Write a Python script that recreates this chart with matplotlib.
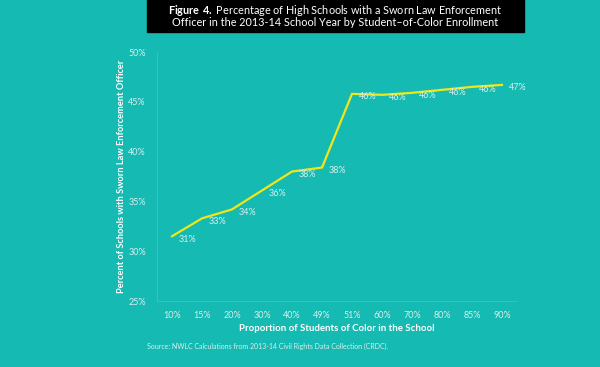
import matplotlib
matplotlib.use("Agg")
import matplotlib.pyplot as plt
from matplotlib.patches import Rectangle

# ---------- data -------------------------------------------------------------
categories = ["10%", "15%", "20%", "30%", "40%", "49%",
              "51%", "60%", "70%", "80%", "85%", "90%"]
pct_officer = [31.5, 33.3, 34.2, 36.1, 38.0, 38.4,
               45.8, 45.7, 45.9, 46.2, 46.5, 46.7]
point_labels = ["31%", "33%", "34%", "36%", "38%", "38%",
                "46%", "46%", "46%", "46%", "46%", "47%"]
y_ticks = [25, 30, 35, 40, 45, 50]

BG     = "#15bab2"
LINE   = "#f2e61a"
LIGHT  = "#d6efed"
FONT   = ["Lato", "DejaVu Sans"]

plt.rcParams["font.family"] = FONT
plt.rcParams["mathtext.fontset"] = "custom"
plt.rcParams["mathtext.rm"] = "Lato"
plt.rcParams["mathtext.bf"] = "Lato:bold"

fig = plt.figure(figsize=(6, 3.67), dpi=100, facecolor=BG)
ax = fig.add_axes([0.2617, 0.1798, 0.6, 0.6785], facecolor=BG)

x = list(range(len(categories)))
ax.plot(x, pct_officer, color=LINE, lw=1.6, solid_joinstyle="miter")
for xi, yi, lab in zip(x, pct_officer, point_labels):
    ax.annotate(lab, (xi, yi), xytext=(5, -2), textcoords="offset points",
                ha="left", va="center", color=LIGHT, fontsize=6.5)

ax.set_xlim(-0.5, len(categories) - 0.5)
ax.set_ylim(25, 50)
ax.set_xticks(x)
ax.set_xticklabels(categories)
ax.set_yticks(y_ticks)
ax.set_yticklabels([f"{v}%" for v in y_ticks])
ax.tick_params(length=0, colors=LIGHT, labelsize=6.5)
ax.tick_params(axis="x", pad=7)
ax.tick_params(axis="y", pad=8)
for s in ("top", "right"):
    ax.spines[s].set_visible(False)
for s in ("left", "bottom"):
    ax.spines[s].set_color("#7fa8a5")
    ax.spines[s].set_linewidth(0.6)

ax.set_xlabel("Proportion of Students of Color in the School",
              color="white", fontsize=6.9, fontweight="bold", labelpad=3)
ax.set_ylabel("Percent of Schools with Sworn Law Enforcement Officer",
              color="white", fontsize=6.7, fontweight="bold", labelpad=2)

# title box
fig.patches.append(Rectangle((147 / 600, 1 - 32 / 367), (524 - 147) / 600, 32 / 367,
                             transform=fig.transFigure, color="black", zorder=0))
fig.text(335 / 600, 1 - 10 / 367,
         r"$\bf{Figure\ 4.}$ Percentage of High Schools with a Sworn Law Enforcement",
         ha="center", va="center", color="white", fontsize=7.8)
fig.text(335 / 600, 1 - 23 / 367,
         "Officer in the 2013-14 School Year by Student\u2013of-Color Enrollment",
         ha="center", va="center", color="white", fontsize=7.8)

fig.text(147 / 600, 1 - 346 / 367,
         "Source: NWLC Calculations from 2013-14 Civil Rights Data Collection (CRDC).",
         ha="left", va="center", color=LIGHT, fontsize=5)

fig.savefig("out.png", dpi=100, facecolor=BG)
